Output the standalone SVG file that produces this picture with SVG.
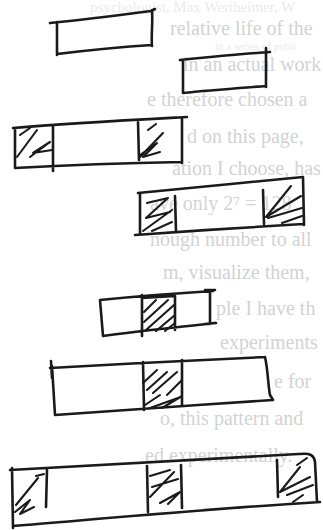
<svg xmlns="http://www.w3.org/2000/svg" width="323" height="530" viewBox="0 0 323 530">
<style>
.bg{fill:#ffffff}
.txt{font-family:"Liberation Serif","DejaVu Serif",serif;font-size:20px;fill:#d3d3d3}
.faint{font-family:"Liberation Serif","DejaVu Serif",serif;font-size:15px;fill:#ebebeb}
.faint2{font-family:"Liberation Serif","DejaVu Serif",serif;font-size:11px;fill:#ebebeb}
.ink{fill:none;stroke:#1a1a1a;stroke-width:2.6;stroke-linecap:round;stroke-linejoin:round}
.hatch{fill:none;stroke:#1a1a1a;stroke-width:2.1;stroke-linecap:round;stroke-linejoin:round}
</style>
<rect class="bg" x="0" y="0" width="323" height="530"/>
<g id="page-text">
<text class="faint" x="90" y="12">psychologist, Max Wertheimer, W</text>
<text class="faint2" x="215" y="50">in a series of publi</text>
<text class="txt" x="170" y="35">relative life of the</text>
<text class="txt" x="183" y="71">in an actual work</text>
<text class="txt" x="147" y="106">e therefore chosen a</text>
<text class="txt" x="187" y="143">d on this page,</text>
<text class="txt" x="172" y="175">ation I choose, has</text>
<text class="txt" x="150" y="210">ave only 2⁷ = 128</text>
<text class="txt" x="150" y="246">nough number to all</text>
<text class="txt" x="163" y="279">m, visualize them,</text>
<text class="txt" x="216" y="315">ple I have th</text>
<text class="txt" x="220" y="349">experiments</text>
<text class="txt" x="274" y="388">e for</text>
<text class="txt" x="160" y="425">o, this pattern and</text>
<text class="txt" x="145" y="462">ed experimentally.</text>
</g>
<g id="strip-a">
<path class="ink" d="M50,23 C80,20 120,15 151,11 L155,9 M152,10 C153,22 151,35 152,46 M57,22 L57,55 M57,54 C90,50 120,47 152,45"/>
</g>
<g id="strip-b">
<path class="ink" d="M180,60 C210,57 240,54 270,52 M266,48 L266,87 M183,60 L183,93 M183,93 C210,90 240,88 266,86"/>
</g>
<g id="strip-c">
<path class="ink" d="M13,128 C70,123 130,120 187,117 M15,128 L15,168 M15,168 C70,165 130,163 182,162 M182,118 L182,163 M53,126 L53,171 M138,122 L139,160"/>
<path class="hatch" d="M17,157 L37,130 M30,157 L50,142 L33,153 L52,150 M20,135 L30,128 M140,157 L163,133 M140,155 L157,143 L143,157 L160,152 M148,130 L156,124"/>
</g>
<g id="strip-d">
<path class="ink" d="M138,193 C190,188 250,182 303,177 M303,177 L304,225 M135,235 C190,231 250,227 303,224 M140,193 L140,233 M175,196 L176,231 M263,190 L264,224"/>
<path class="hatch" d="M147,203 L168,198 L146,218 L170,212 M143,231 L172,210 M152,231 L172,222 M266,217 L291,186 M266,217 L301,196 M268,218 L302,208 M282,223 L302,216"/>
</g>
<g id="strip-e">
<path class="ink" d="M100,300 C140,296 180,293 213,291 M210,290 L210,324 M205,290 L215,290 M205,324 L216,323 M103,336 C140,331 180,327 215,323 M100,300 C101,312 102,324 103,336 M142,295 L142,336 M175,297 L175,330 M142,298 L175,296"/>
<path class="hatch" d="M144,312 L156,300 M144,322 L168,300 M146,330 L174,305 M156,331 L175,315 M165,331 L175,323"/>
</g>
<g id="strip-f">
<path class="ink" d="M50,368 C120,364 200,360 265,357 M51,361 L52,378 M52,366 L55,415 M265,357 C268,370 268,385 270,395 L273,400 M55,415 C120,410 200,405 273,400 M143,362 L144,410 M182,360 L182,405"/>
<path class="hatch" d="M143,383 L157,370 M147,390 L167,372 M153,393 L177,372 M167,395 L182,380 M145,405 L160,395 M150,408 L178,398 M162,408 L182,396"/>
</g>
<g id="strip-g">
<path class="ink" d="M10,470 C100,465 200,459 300,454 C310,453 314,455 315,462 M315,462 L317,502 M13,526 C110,518 220,508 320,502 M12,468 L13,528 M47,470 L46,507 M147,466 L148,512 M181,465 L182,508 M277,460 L278,497"/>
<path class="hatch" d="M16,505 L38,478 M15,512 L30,500 L20,514 L34,507 M36,476 L44,474 M150,476 L170,470 M150,497 L174,472 M152,487 L178,479 M160,503 L180,492 L168,504 M280,492 L300,467 M280,492 L310,477 M287,495 L313,485 M293,502 L303,495 M297,465 L307,458"/>
</g>
</svg>
